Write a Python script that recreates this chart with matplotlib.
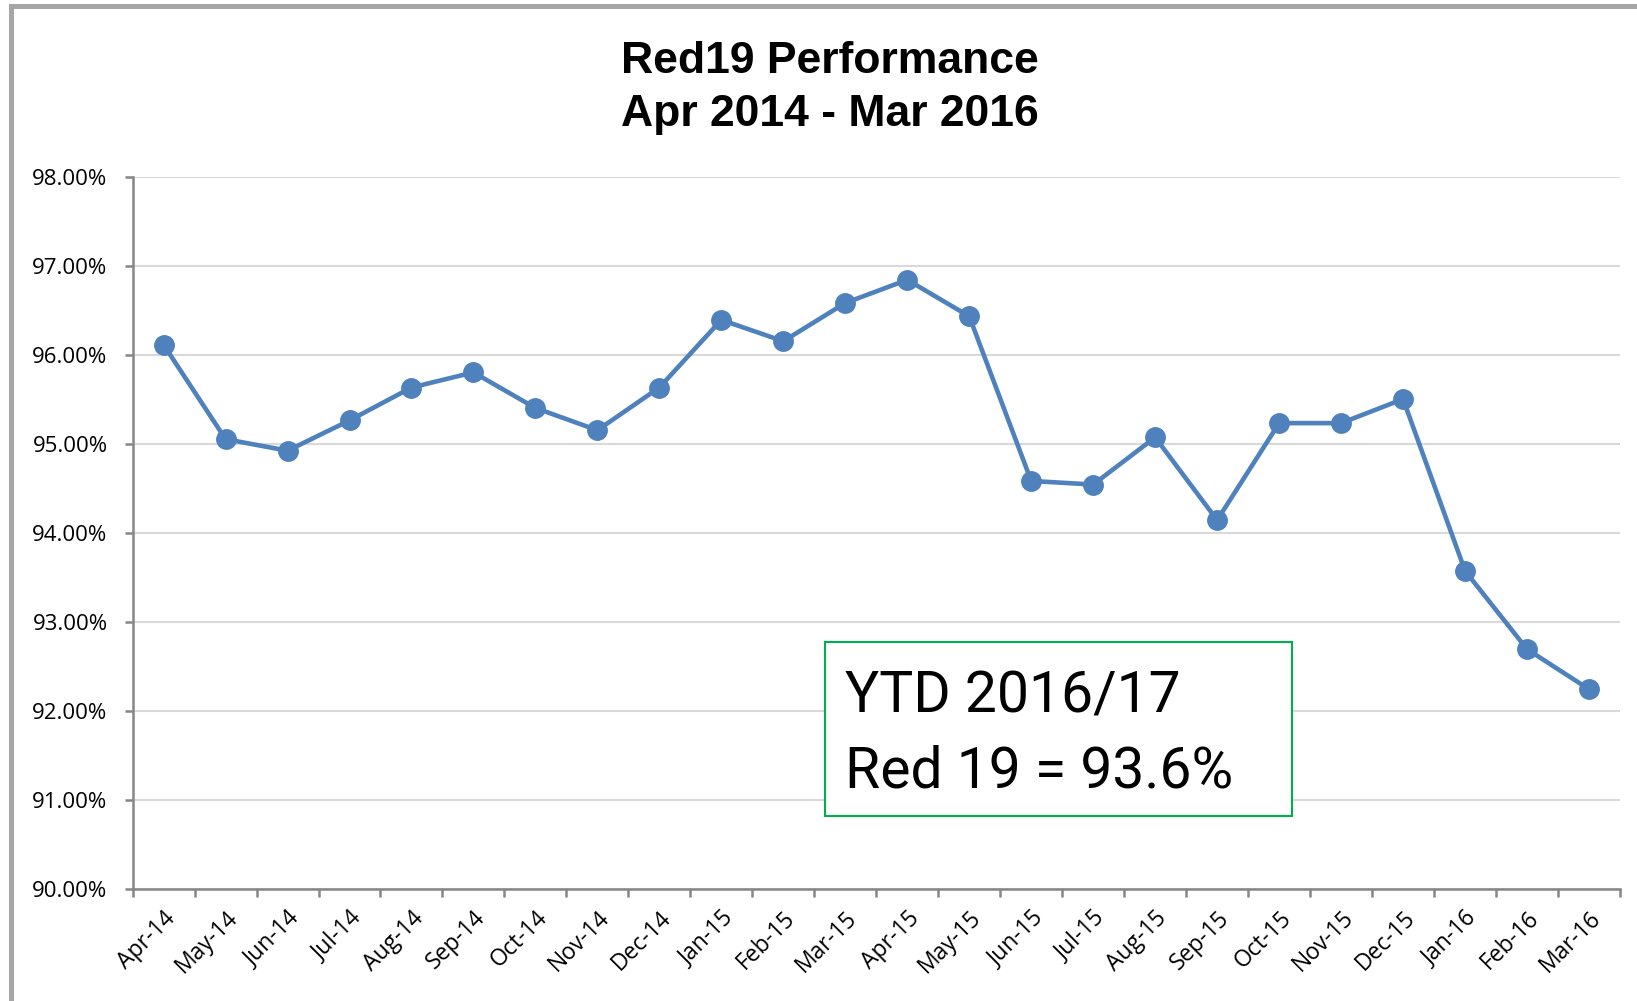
import matplotlib
matplotlib.use("Agg")
import matplotlib.pyplot as plt
from matplotlib.patches import Rectangle
from matplotlib.ticker import FuncFormatter, FixedLocator

# datos
meses = ["Apr-14", "May-14", "Jun-14", "Jul-14", "Aug-14", "Sep-14", "Oct-14", "Nov-14",
         "Dec-14", "Jan-15", "Feb-15", "Mar-15", "Apr-15", "May-15", "Jun-15", "Jul-15",
         "Aug-15", "Sep-15", "Oct-15", "Nov-15", "Dec-15", "Jan-16", "Feb-16", "Mar-16"]
rendimiento = [96.12, 95.06, 94.93, 95.27, 95.64, 95.81, 95.41, 95.16,
               95.64, 96.40, 96.16, 96.59, 96.85, 96.44, 94.59, 94.55,
               95.08, 94.15, 95.24, 95.24, 95.51, 93.58, 92.70, 92.25]
y_ticks = [90, 91, 92, 93, 94, 95, 96, 97, 98]

titulo = "Red19 Performance\nApr 2014 - Mar 2016"
nota_1 = "YTD 2016/17"
nota_2 = "Red 19 = 93.6%"

fig = plt.figure(figsize=(16.37, 10.01), dpi=100)
ax = fig.add_axes([0.081, 0.1114, 0.9086, 0.7113])

x = list(range(len(meses)))
ax.plot(x, rendimiento, color="#4F81BD", lw=3.3, marker="o", markersize=14, zorder=3)

ax.set_xlim(-0.5, len(meses) - 0.5)
ax.set_ylim(90, 98)
ax.set_yticks(y_ticks)
ax.yaxis.set_major_formatter(FuncFormatter(lambda v, p: f"{v:.2f}%"))
ax.grid(axis="y", color="#D9D9D9", lw=1.5)
ax.set_axisbelow(True)

# ticks entre categorias, etiquetas en el centro
ax.xaxis.set_major_locator(FixedLocator([i - 0.5 for i in range(len(meses) + 1)]))
ax.xaxis.set_minor_locator(FixedLocator(x))
ax.set_xticklabels([])
ax.set_xticklabels(meses, minor=True, rotation=45, ha="right", va="top",
                   rotation_mode="anchor", fontsize=16.5, family=["Open Sans", "DejaVu Sans"])
ax.tick_params(axis="x", which="minor", length=0, pad=12)
ax.tick_params(axis="x", which="major", length=6, width=1.8, color="#868686")
ax.tick_params(axis="y", length=6, width=1.8, color="#868686", pad=12)
for lab in ax.get_yticklabels():
    lab.set_fontsize(16)
    lab.set_family(["Open Sans", "DejaVu Sans"])

for s in ["top", "right"]:
    ax.spines[s].set_visible(False)
for s in ["left", "bottom"]:
    ax.spines[s].set_color("#868686")
    ax.spines[s].set_linewidth(1.8)

fig.text(0.507, 0.912, titulo, ha="center", va="center", fontsize=32, fontweight="bold",
         linespacing=1.4, family=["Liberation Sans", "DejaVu Sans"])

# cuadro de texto
caja = Rectangle((825 / 1637, 1 - 816 / 1001), (1292 - 825) / 1637, (816 - 642) / 1001,
                 transform=fig.transFigure, facecolor="white",
                 edgecolor="#00B050", lw=1.5, zorder=3)
fig.add_artist(caja)
fig.text(845 / 1637, 1 - 712 / 1001, nota_1, fontsize=41, va="baseline", ha="left",
         family=["Roboto", "DejaVu Sans"], zorder=4)
fig.text(845 / 1637, 1 - 788 / 1001, nota_2, fontsize=41, va="baseline", ha="left",
         family=["Roboto", "DejaVu Sans"], zorder=4)

# marco gris del grafico
marco = Rectangle((10.5 / 1637, -0.1), 1.2, 1.1 - 6.5 / 1001, transform=fig.transFigure,
                  fill=False, edgecolor="#A6A6A6", lw=3.6)
fig.add_artist(marco)

plt.savefig("out.png", dpi=100)
plt.close()
